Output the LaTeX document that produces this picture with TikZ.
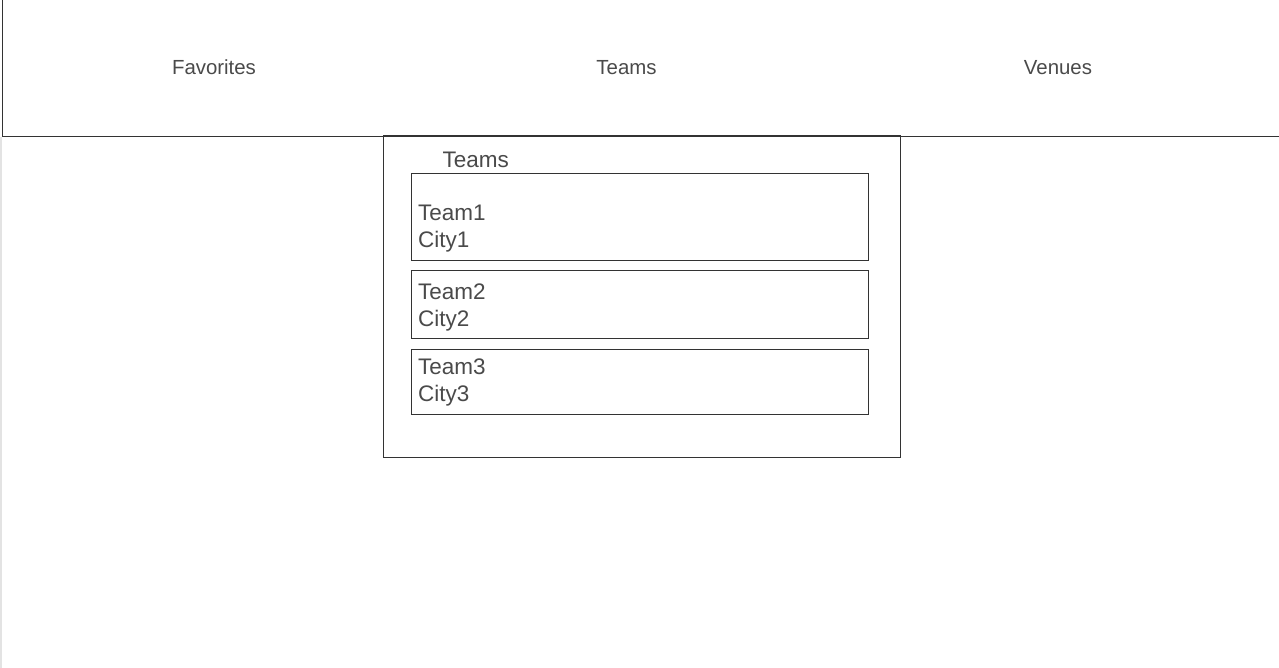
\documentclass[tikz,border=0pt]{standalone}
\usepackage{fontspec}
\setmainfont{Liberation Sans}
\begin{document}
\begin{tikzpicture}[x=1pt,y=-1pt,
  frame/.style={draw=linec,line width=1pt,inner sep=0pt,outer sep=0pt,fill=none},
  tab/.style={text=txtc,font=\fontsize{20.4}{24}\selectfont,inner sep=0pt,anchor=base},
  lbl/.style={text=txtc,font=\fontsize{22.5}{26}\selectfont,inner sep=0pt,anchor=base west}]
\definecolor{linec}{HTML}{333333}
\definecolor{txtc}{HTML}{4A4A4A}
\definecolor{stripc}{HTML}{E3E3E3}
\useasboundingbox (0,0) rectangle (1279,668);
\clip (0,0) rectangle (1279,668);
\fill[white] (0,0) rectangle (1279,668);
% left strip
\fill[stripc] (0,137) rectangle (2,668);
% top bar
\node[frame,anchor=north west,minimum width=1290pt,minimum height=146.5pt] (bar) at (2.5,-10) {};
\node[tab] (fav) at (214,74.5) {Favorites};
\node[tab] (teamstab) at (626.5,74.5) {Teams};
\node[tab] (venues) at (1058,74.5) {Venues};
% panel
\node[frame,anchor=north west,minimum width=517pt,minimum height=322pt] (panel) at (383.5,135.5) {};
\node[lbl] (hdr) at (442.5,167.5) {Teams};
\node[frame,anchor=north west,minimum width=457pt,minimum height=87pt] (card1) at (411.5,173.5) {};
\node[frame,anchor=north west,minimum width=457pt,minimum height=68pt] (card2) at (411.5,270.5) {};
\node[frame,anchor=north west,minimum width=457pt,minimum height=65pt] (card3) at (411.5,349.5) {};
\node[lbl] (t1) at (418,220.5) {Team1};
\node[lbl] (c1) at (418,247.5) {City1};
\node[lbl] (t2) at (418,299.5) {Team2};
\node[lbl] (c2) at (418,326.5) {City2};
\node[lbl] (t3) at (418,374.5) {Team3};
\node[lbl] (c3) at (418,401.5) {City3};
\end{tikzpicture}
\end{document}
